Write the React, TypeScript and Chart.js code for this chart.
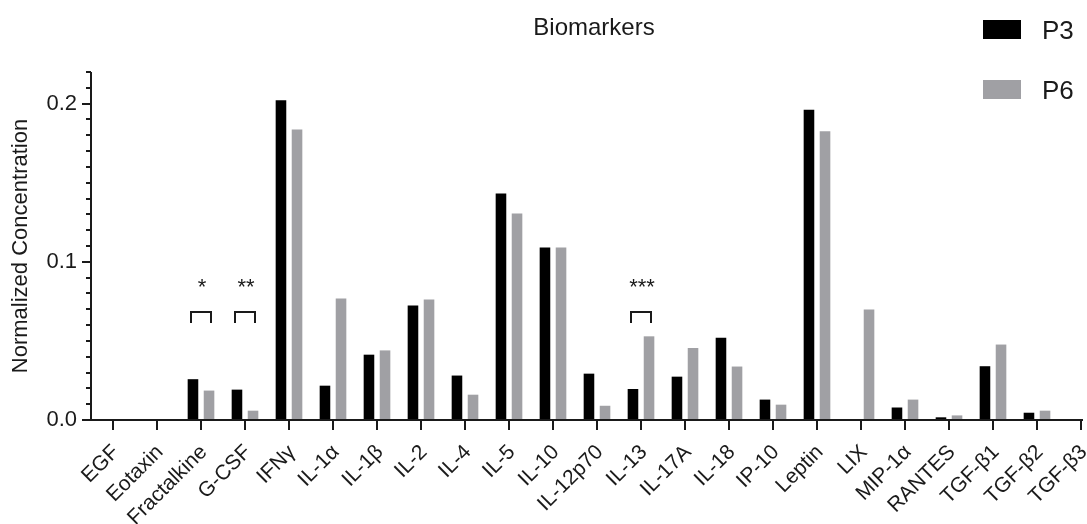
import React, { useEffect, useRef } from "react";
import { Chart, registerables } from "chart.js";

Chart.register(...registerables);

const categories = [
  "EGF", "Eotaxin", "Fractalkine", "G-CSF", "IFNγ", "IL-1α", "IL-1β", "IL-2",
  "IL-4", "IL-5", "IL-10", "IL-12p70", "IL-13", "IL-17A", "IL-18", "IP-10",
  "Leptin", "LIX", "MIP-1α", "RANTES", "TGF-β1", "TGF-β2", "TGF-β3",
];
const seriesNames = ["P3", "P6"];
const p3Values = [
  0, 0, 0.0258, 0.0192, 0.2021, 0.0217, 0.0413, 0.0724,
  0.0281, 0.1432, 0.109, 0.0293, 0.0196, 0.0274, 0.052, 0.0129,
  0.1962, 0, 0.0079, 0.0017, 0.034, 0.0046, 0,
];
const p6Values = [
  0.0005, 0, 0.0186, 0.0059, 0.1837, 0.0768, 0.044, 0.0762,
  0.016, 0.1306, 0.109, 0.009, 0.0529, 0.0455, 0.0338, 0.0097,
  0.1825, 0.0698, 0.0129, 0.0029, 0.0477, 0.0059, 0,
];
const yTickValues = [0, 0.1, 0.2];
const yMinorTickValues = [
  0.01, 0.02, 0.03, 0.04, 0.05, 0.06, 0.07, 0.08, 0.09,
  0.11, 0.12, 0.13, 0.14, 0.15, 0.16, 0.17, 0.18, 0.19, 0.21, 0.22,
];
const sigCategories = ["Fractalkine", "G-CSF", "IL-13"];
const sigMarks = ["*", "**", "***"];

const FONT = '"Liberation Sans", Arial, Helvetica, sans-serif';
const COLORS = ["#000000", "#a0a0a4"];
const X_MIN = -0.5;
const X_MAX = categories.length - 1;

export default function App() {
  const ref = useRef<HTMLCanvasElement | null>(null);

  useEffect(() => {
    const canvas = ref.current;
    if (!canvas) return;

    const fixX = {
      id: "fixX",
      afterLayout(chart: any) {
        const s = chart.scales.x;
        const { left, right } = chart.chartArea;
        s.left = left;
        s.right = right;
        s.width = right - left;
        s.paddingLeft = 0;
        s.paddingRight = 0;
        s.min = X_MIN;
        s.max = X_MAX;
        s.configure();
      },
    };

    const overlay = {
      id: "overlay",
      afterDraw(chart: any) {
        const c = chart.ctx as CanvasRenderingContext2D;
        const xs = chart.scales.x;
        const ys = chart.scales.y;
        const { left, right, top, bottom } = chart.chartArea;
        c.save();
        c.strokeStyle = "#1a1a1a";
        c.lineWidth = 2;
        c.beginPath();
        c.moveTo(left, top);
        c.lineTo(left, bottom + 1);
        c.stroke();
        c.beginPath();
        c.moveTo(left - 1, bottom);
        c.lineTo(right + 2, bottom);
        c.stroke();
        yTickValues.forEach((v) => {
          const py = Math.round(ys.getPixelForValue(v));
          c.beginPath();
          c.moveTo(left - 9, py);
          c.lineTo(left, py);
          c.stroke();
        });
        yMinorTickValues.forEach((v) => {
          const py = Math.round(ys.getPixelForValue(v));
          c.beginPath();
          c.moveTo(left - 5, py);
          c.lineTo(left, py);
          c.stroke();
        });
        categories.forEach((_, i) => {
          const px = Math.round(xs.getPixelForValue(i));
          c.beginPath();
          c.moveTo(px, bottom);
          c.lineTo(px, bottom + 10);
          c.stroke();
        });
        const m0 = chart.getDatasetMeta(0).data;
        const m1 = chart.getDatasetMeta(1).data;
        c.fillStyle = "#1a1a1a";
        c.font = `22px ${FONT}`;
        c.textAlign = "center";
        c.textBaseline = "alphabetic";
        sigCategories.forEach((cat, k) => {
          const idx = categories.indexOf(cat);
          const x0 = Math.round(m0[idx].x) - 2;
          const x1 = Math.round(m1[idx].x) + 2;
          const yTop = Math.round(ys.getPixelForValue(0.0685));
          const yLeg = Math.round(ys.getPixelForValue(0.0615));
          c.beginPath();
          c.moveTo(x0, yLeg);
          c.lineTo(x0, yTop);
          c.lineTo(x1, yTop);
          c.lineTo(x1, yLeg);
          c.stroke();
          c.fillText(sigMarks[k], (x0 + x1) / 2 + 1, ys.getPixelForValue(0.0795));
        });
        c.fillStyle = "#1a1a1a";
        c.font = `24px ${FONT}`;
        c.textAlign = "center";
        c.fillText("Biomarkers", 594, 35);
        c.textAlign = "left";
        c.font = `26px ${FONT}`;
        const legendTops = [20, 80];
        seriesNames.forEach((name, i) => {
          c.fillStyle = COLORS[i];
          c.fillRect(983, legendTops[i], 38, 19);
          c.fillStyle = "#1a1a1a";
          c.fillText(name, 1042, legendTops[i] + 19);
        });
        c.restore();
      },
    };

    const chart = new Chart(canvas, {
      type: "bar",
      data: {
        datasets: [
          {
            label: seriesNames[0],
            data: p3Values.map((v, i) => ({ x: i, y: v })),
            backgroundColor: COLORS[0],
            borderWidth: 0,
          },
          {
            label: seriesNames[1],
            data: p6Values.map((v, i) => ({ x: i, y: v })),
            backgroundColor: COLORS[1],
            borderWidth: 0,
          },
        ],
      },
      options: {
        responsive: false,
        animation: false,
        layout: { padding: { top: 72, right: 6, left: 0, bottom: 0 } },
        datasets: { bar: { categoryPercentage: 0.73, barPercentage: 0.66 } },
        plugins: {
          legend: { display: false },
          title: { display: false },
          tooltip: { enabled: false },
        },
        scales: {
          x: {
            type: "linear",
            min: X_MIN,
            max: X_MAX,
            offset: false,
            grid: { display: false, drawTicks: false, offset: false },
            border: { display: false },
            afterBuildTicks: (scale: any) => {
              scale.ticks = categories.map((_, i) => ({ value: i }));
            },
            afterFit: (scale: any) => {
              scale.height = 104;
              scale.paddingLeft = 0;
              scale.paddingRight = 0;
            },
            ticks: {
              autoSkip: false,
              minRotation: 45,
              maxRotation: 45,
              padding: 20,
              labelOffset: 3,
              color: "#1a1a1a",
              font: { family: FONT, size: 21 },
              callback: (v: any) => categories[v] ?? "",
            },
          },
          y: {
            min: 0,
            max: 0.22,
            grid: { display: false, drawTicks: false },
            border: { display: false },
            afterBuildTicks: (scale: any) => {
              scale.ticks = yTickValues.map((v) => ({ value: v }));
            },
            afterFit: (scale: any) => {
              scale.width = 91;
            },
            ticks: {
              padding: 14,
              color: "#1a1a1a",
              font: { family: FONT, size: 22 },
              callback: (v: any) => Number(v).toFixed(1),
            },
            title: {
              display: true,
              text: "Normalized Concentration",
              color: "#1a1a1a",
              font: { family: FONT, size: 22 },
              padding: { top: 8, bottom: 0 },
            },
          },
        },
      },
      plugins: [fixX, overlay],
    } as any);

    return () => chart.destroy();
  }, []);

  return (
    <div style={{ position: "fixed", left: 0, top: 0, width: 1087, height: 524, background: "#fff" }}>
      <canvas ref={ref} width={1087} height={524} style={{ display: "block" }} />
    </div>
  );
}
